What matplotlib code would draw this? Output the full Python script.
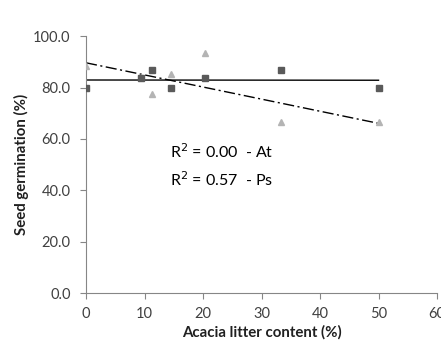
import matplotlib.pyplot as plt
import numpy as np

# Acacia litter content (%) and seed germination (%)
litter = [0, 9.4, 11.3, 14.5, 20.3, 33.4, 50.1]
germ_at = [79.8, 83.6, 86.8, 79.8, 83.6, 86.8, 79.8]
germ_ps = [88.5, 84.0, 77.5, 85.3, 93.5, 66.5, 66.5]

plt.rcParams['font.family'] = ['Lato', 'DejaVu Sans']

fig = plt.figure(figsize=(4.41, 3.54), dpi=100)
ax = fig.add_axes([0.195, 0.172, 0.796, 0.726])

ax.plot(litter, germ_ps, linestyle='none', marker='^', markersize=4.5,
        color='#b4b4b4', zorder=3)
ax.plot(litter, germ_at, linestyle='none', marker='s', markersize=4.2,
        color='#5a5a5a', zorder=4)

# linear trend lines
xs = np.array([0, 50])
p_at = np.polyfit(litter, germ_at, 1)
p_ps = np.polyfit(litter, germ_ps, 1)
ax.plot(xs, np.polyval(p_at, xs), color='black', linewidth=1.0, zorder=2)
ax.plot(xs, np.polyval(p_ps, xs), color='black', linewidth=1.0,
        linestyle=(0, (8, 2.5, 1.5, 2.5)), zorder=2)

ax.text(14.3, 52.5, 'R$^2$ = 0.00  - At', fontsize=11.5, color='black')
ax.text(14.3, 41.5, 'R$^2$ = 0.57  - Ps', fontsize=11.5, color='black')

ax.set_xlim(0, 60)
ax.set_ylim(0, 100)
ax.set_xticks(range(0, 61, 10))
ax.set_yticks(range(0, 101, 20))
ax.set_yticklabels([f'{v:.1f}' for v in range(0, 101, 20)])

for s in ['top', 'right']:
    ax.spines[s].set_visible(False)
for s in ['left', 'bottom']:
    ax.spines[s].set_color('#868686')
    ax.spines[s].set_linewidth(0.8)
ax.tick_params(axis='both', colors='#868686', labelcolor='#404040',
               labelsize=10.5, length=4, width=0.8)
ax.tick_params(axis='x', pad=6)
ax.tick_params(axis='y', pad=7)

ax.set_xlabel('Acacia litter content (%)', fontsize=10.8, color='#202020',
              fontweight='bold', labelpad=3)
ax.set_ylabel('Seed germination (%)', fontsize=10.8, color='#202020',
              fontweight='bold', labelpad=3)

fig.savefig('out.png', dpi=100)
